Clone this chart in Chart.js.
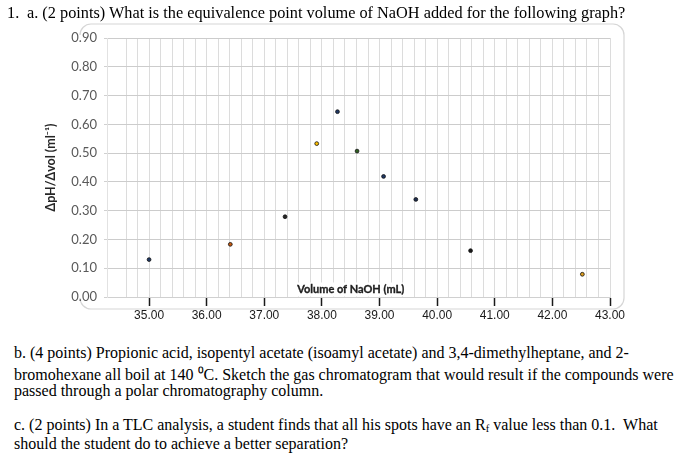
<!DOCTYPE html>
<html>
<head>
<meta charset="utf-8">
<script src="https://cdn.jsdelivr.net/npm/chart.js@4.4.0/dist/chart.umd.min.js"></script>
<style>
  html, body { margin: 0; padding: 0; background: #fff; }
  body { width: 681px; height: 459px; position: relative; overflow: hidden; }
  #wrap { position: absolute; left: 0; top: 0; width: 681px; height: 330px; }
  .q { position: absolute; font-family: "Liberation Serif", "Times New Roman", serif; color: #000; white-space: pre; }
  .q1 { top: 3px; font-size: 16.3px; }
  .qb { left: 14px; font-size: 16px; }
  sub { font-size: 10.5px; vertical-align: -2px; }
</style>
</head>
<body>
<div id="wrap"><canvas id="titration"></canvas></div>
<div class="q q1" style="left:7px">1.</div>
<div class="q q1" style="left:27px">a. (2 points) What is the equivalence point volume of NaOH added for the following graph?</div>
<div class="q qb" style="top:344px">b. (4 points) Propionic acid, isopentyl acetate (isoamyl acetate) and 3,4-dimethylheptane, and 2-</div>
<div class="q qb" style="top:363px">bromohexane all boil at 140 ⁰C. Sketch the gas chromatogram that would result if the compounds were</div>
<div class="q qb" style="top:382px">passed through a polar chromatography column.</div>
<div class="q qb" style="top:416px">c. (2 points) In a TLC analysis, a student finds that all his spots have an R<sub>f</sub> value less than 0.1.  What</div>
<div class="q qb" style="top:435px">should the student do to achieve a better separation?</div>

<script>
// dpH/dV vs volume of NaOH
const volumes = [35.00, 36.41, 37.36, 37.91, 38.27, 38.61, 39.07, 39.63, 40.58, 42.52];
const slopes  = [0.130, 0.183, 0.279, 0.533, 0.644, 0.507, 0.419, 0.339, 0.161, 0.079];
const pointColors = ['#1f3864', '#c55a11', '#262626', '#ffc000', '#1f3864',
                     '#2e5e1e', '#203864', '#1f2f4f', '#1a1a1a', '#e0a020'];
const xLabels = [35, 36, 37, 38, 39, 40, 41, 42, 43];
const yLabels = [0, 0.1, 0.2, 0.3, 0.4, 0.5, 0.6, 0.7, 0.8, 0.9];
const xTitleText = 'Volume of NaOH (mL)';
const yTitleText = 'ΔpH/Δvol (ml⁻¹)';

// pick a font size that gives the text the width it has in the picture
const meas = document.createElement('canvas').getContext('2d');
function fitSize(txt, family, weight, width) {
  meas.font = weight + ' 20px "' + family + '"';
  return 20 * width / meas.measureText(txt).width;
}
const yTickSize  = fitSize('0.90', 'Lato', 'normal', 25.7);
const xTickSize  = fitSize('35.00', 'Liberation Sans', 'normal', 30);
const xTitleSize = fitSize(xTitleText, 'Lato', 'bold', 107);
const yTitleSize = fitSize(yTitleText, 'Lato', 'bold', 88);

const isWhole = v => Math.abs(v - Math.round(v)) < 1e-6;

// rounded outline of the excel chart box (left side not visible)
const frame = {
  id: 'frame',
  beforeDraw(chart) {
    const c = chart.ctx;
    c.save();
    c.strokeStyle = '#d6d6d6';
    c.lineWidth = 1.2;
    c.beginPath();
    c.moveTo(80, 35);
    c.arcTo(80, 24, 91, 24, 11);
    c.lineTo(613, 24);
    c.arcTo(624, 24, 624, 35, 11);
    c.lineTo(624, 298);
    c.arcTo(624, 309, 613, 309, 11);
    c.lineTo(91, 309);
    c.arcTo(80, 309, 80, 298, 11);
    c.stroke();
    c.restore();
  }
};

// axis title sits inside the plot, on a white box
const xTitle = {
  id: 'xTitle',
  afterDatasetsDraw(chart) {
    const c = chart.ctx;
    const cx = chart.scales.x.getPixelForValue(38.5);
    const y = 289.5;
    c.save();
    c.font = 'bold ' + xTitleSize + 'px "Lato"';
    const w = c.measureText(xTitleText).width;
    c.fillStyle = '#fff';
    c.fillRect(cx - w / 2 - 2, y - 7, w + 4, 14);
    c.fillStyle = '#1f1f1f';
    c.strokeStyle = '#1f1f1f';
    c.lineWidth = 0.35;
    c.textAlign = 'center';
    c.textBaseline = 'middle';
    c.fillText(xTitleText, cx, y);
    c.strokeText(xTitleText, cx, y);
    c.restore();
  }
};

new Chart(document.getElementById('titration'), {
  type: 'scatter',
  data: {
    datasets: [{
      data: volumes.map((v, i) => ({ x: v, y: slopes[i] })),
      pointBackgroundColor: pointColors,
      pointBorderColor: '#111',
      pointBorderWidth: 0.8,
      pointRadius: 1.9,
      showLine: false
    }]
  },
  options: {
    responsive: true,
    maintainAspectRatio: false,
    animation: false,
    layout: { padding: { left: 0, right: 71, top: 38, bottom: 5 } },
    plugins: { legend: { display: false }, tooltip: { enabled: false } },
    scales: {
      x: {
        type: 'linear',
        min: 34.27,
        max: 43,
        afterFit: s => { s.height = 28; },
        ticks: {
          stepSize: 0.2,
          autoSkip: false,
          maxRotation: 0,
          padding: 3,
          color: '#1a1a1a',
          font: { family: 'Liberation Sans', size: xTickSize },
          callback: v => (isWhole(v) && xLabels.includes(Math.round(v))) ? v.toFixed(2) : ''
        },
        grid: {
          color: '#dcdcdc',
          tickLength: 9,
          tickWidth: 1.5,
          tickColor: ctx => (ctx.tick && isWhole(ctx.tick.value)) ? '#1a1a1a' : 'rgba(0,0,0,0)'
        },
        border: { color: '#d0d0d0' }
      },
      y: {
        min: 0,
        max: 0.9,
        afterFit: s => { s.width = 107; },
        ticks: {
          stepSize: 0.1,
          padding: 7,
          color: '#595959',
          font: { family: 'Lato', size: yTickSize },
          callback: v => yLabels.some(t => Math.abs(t - v) < 1e-6) ? v.toFixed(2) : ''
        },
        grid: { color: '#cccccc', tickLength: 3, tickColor: '#d0d0d0' },
        border: { color: '#e2e2e2' },
        title: {
          display: true,
          text: yTitleText,
          color: '#262626',
          font: { family: 'Lato', size: yTitleSize, weight: 'bold' },
          padding: { top: 51 - 0.6 * yTitleSize, bottom: 0 }
        }
      }
    }
  },
  plugins: [frame, xTitle]
});
</script>
</body>
</html>
